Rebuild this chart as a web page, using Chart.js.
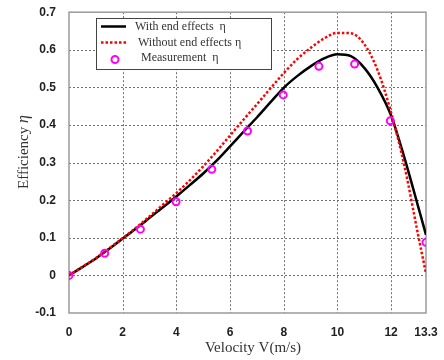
<!DOCTYPE html>
<html>
<head>
<meta charset="utf-8">
<script src="https://cdn.jsdelivr.net/npm/chart.js@4"></script>
<style>
  html, body { margin: 0; padding: 0; background: #fff; }
  #wrap { width: 444px; height: 360px; }
</style>
</head>
<body>
<div id="wrap"><canvas id="grafico" width="444" height="360"></canvas></div>
<script>
// curve samples (velocity m/s)
const velocity = [0, 0.5, 1, 1.5, 2, 2.5, 3, 3.5, 4, 4.5, 5, 5.5, 6, 6.5, 7, 7.5, 8, 8.5, 9, 9.5, 10, 10.5, 11, 11.5, 12, 12.5, 13, 13.3];
const withEnd = [0, 0.022, 0.045, 0.071, 0.098, 0.125, 0.153, 0.181, 0.210, 0.240, 0.271, 0.305, 0.343, 0.382, 0.420, 0.460, 0.499, 0.530, 0.556, 0.577, 0.588, 0.583, 0.552, 0.499, 0.425, 0.312, 0.185, 0.108];
const withoutEnd = [0, 0.023, 0.046, 0.072, 0.099, 0.127, 0.157, 0.188, 0.219, 0.253, 0.290, 0.330, 0.372, 0.414, 0.455, 0.497, 0.538, 0.575, 0.605, 0.630, 0.645, 0.644, 0.615, 0.545, 0.433, 0.290, 0.110, 0.005];

// measurements
const measVel = [0, 1.33, 2.66, 3.99, 5.32, 6.65, 7.98, 9.31, 10.64, 11.97, 13.3];
const measEta = [0, 0.059, 0.123, 0.196, 0.282, 0.384, 0.480, 0.556, 0.562, 0.411, 0.088];

const xTicks = [0, 2, 4, 6, 8, 10, 12, 13.3];
const yTicks = [-0.1, 0, 0.1, 0.2, 0.3, 0.4, 0.5, 0.6, 0.7];
const yLabels = ['-0.1', '0', '0.1', '0.2', '0.3', '0.4', '0.5', '0.6', '0.7'];

const toPts = (xs, ys) => xs.map((x, i) => ({ x: x, y: ys[i] }));

const tickFont = { family: 'Liberation Sans, Arial', size: 12, weight: 'bold' };

const extras = {
    id: 'extras',
    beforeDatasetsDraw(chart) {
        const { ctx, chartArea: a, scales } = chart;
        ctx.save();
        // dotted grid
        ctx.strokeStyle = '#6f6f6f';
        ctx.lineWidth = 1;
        ctx.setLineDash([2, 2]);
        xTicks.forEach(v => {
            const px = Math.round(scales.x.getPixelForValue(v)) + 0.5;
            if (px <= a.left + 1 || px >= a.right - 1) return;
            ctx.beginPath(); ctx.moveTo(px, a.top); ctx.lineTo(px, a.bottom); ctx.stroke();
        });
        yTicks.forEach(v => {
            const py = Math.round(scales.y.getPixelForValue(v)) + 0.5;
            if (py <= a.top + 1 || py >= a.bottom - 1) return;
            ctx.beginPath(); ctx.moveTo(a.left, py); ctx.lineTo(a.right, py); ctx.stroke();
        });
        ctx.setLineDash([]);
        // frame
        ctx.strokeStyle = '#9a9a9a';
        ctx.lineWidth = 1.5;
        ctx.strokeRect(a.left, a.top, a.right - a.left, a.bottom - a.top);
        ctx.restore();
    },
    afterDraw(chart) {
        const { ctx } = chart;
        ctx.save();
        // axis titles
        ctx.fillStyle = '#333';
        ctx.font = '15px "Liberation Serif", "Times New Roman", serif';
        ctx.textAlign = 'center';
        ctx.textBaseline = 'middle';
        ctx.fillText('Velocity V(m/s)', 253, 348);

        ctx.translate(24, 152);
        ctx.rotate(-Math.PI / 2);
        const t1 = 'Efficiency ';
        const w1 = ctx.measureText(t1).width;
        ctx.font = 'italic 16px "Liberation Serif", serif';
        const w2 = ctx.measureText('η').width;
        const start = -(w1 + w2) / 2;
        ctx.textAlign = 'left';
        ctx.font = '15px "Liberation Serif", "Times New Roman", serif';
        ctx.fillText(t1, start, 0);
        ctx.font = 'italic 16px "Liberation Serif", serif';
        ctx.fillText('η', start + w1, 0);
        ctx.restore();

        // legend box
        ctx.save();
        ctx.fillStyle = '#fff';
        ctx.fillRect(96, 18, 175, 51);
        ctx.strokeStyle = '#444';
        ctx.lineWidth = 1;
        ctx.strokeRect(96.5, 18.5, 175, 51);

        ctx.lineWidth = 2.5;
        ctx.strokeStyle = '#000';
        ctx.beginPath(); ctx.moveTo(101, 26.5); ctx.lineTo(126, 26.5); ctx.stroke();

        ctx.strokeStyle = '#ff0000';
        ctx.setLineDash([2.5, 2]);
        ctx.beginPath(); ctx.moveTo(101, 42.5); ctx.lineTo(126, 42.5); ctx.stroke();
        ctx.setLineDash([]);

        ctx.strokeStyle = '#ff00ff';
        ctx.lineWidth = 2;
        ctx.beginPath(); ctx.arc(115, 59.5, 3.5, 0, Math.PI * 2); ctx.stroke();

        ctx.fillStyle = '#333';
        ctx.font = '12px "Liberation Serif", "Times New Roman", serif';
        ctx.textBaseline = 'middle';
        ctx.fillText('With end effects  η', 135, 27);
        ctx.fillText('Without end effects η', 138, 43);
        ctx.fillText('Measurement  η', 141, 58);
        ctx.restore();
    }
};

const ctx = document.getElementById('grafico').getContext('2d');
new Chart(ctx, {
    type: 'scatter',
    data: {
        datasets: [
            {
                label: 'With end effects η',
                data: toPts(velocity, withEnd),
                showLine: true,
                borderColor: '#000',
                borderWidth: 2.5,
                pointRadius: 0,
                cubicInterpolationMode: 'monotone',
                order: 2
            },
            {
                label: 'Without end effects η',
                data: toPts(velocity, withoutEnd),
                showLine: true,
                borderColor: '#ff0000',
                borderWidth: 2.5,
                borderDash: [2.5, 2],
                pointRadius: 0,
                cubicInterpolationMode: 'monotone',
                order: 1
            },
            {
                label: 'Measurement η',
                data: toPts(measVel, measEta),
                showLine: false,
                pointRadius: 3.5,
                pointBorderWidth: 2,
                pointBorderColor: '#ff00ff',
                pointBackgroundColor: 'rgba(0,0,0,0)',
                order: 0
            }
        ]
    },
    options: {
        responsive: false,
        animation: false,
        layout: { padding: { left: 0, right: 18, top: 8, bottom: 0 } },
        plugins: {
            legend: { display: false },
            tooltip: { enabled: false }
        },
        scales: {
            x: {
                type: 'linear',
                min: 0,
                max: 13.3,
                afterBuildTicks: s => { s.ticks = xTicks.map(v => ({ value: v })); },
                afterFit: s => { s.height = 47; },
                ticks: {
                    font: tickFont,
                    color: '#222',
                    padding: 4,
                    maxRotation: 0,
                    autoSkip: false,
                    callback: v => String(v)
                },
                grid: { display: false },
                border: { display: false }
            },
            y: {
                min: -0.1,
                max: 0.7,
                afterBuildTicks: s => { s.ticks = yTicks.map(v => ({ value: v })); },
                afterFit: s => { s.width = 69; },
                ticks: {
                    font: tickFont,
                    color: '#222',
                    padding: 5,
                    autoSkip: false,
                    callback: (v, i) => yLabels[i]
                },
                grid: { display: false },
                border: { display: false }
            }
        }
    },
    plugins: [extras]
});
</script>
</body>
</html>
